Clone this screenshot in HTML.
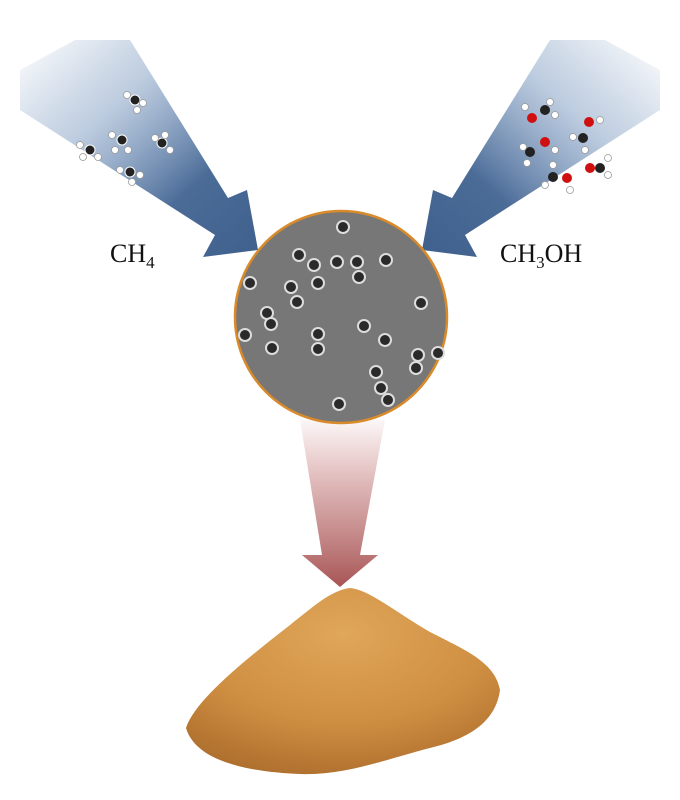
<!DOCTYPE html>
<html><head><meta charset="utf-8"><style>
html,body{margin:0;padding:0;background:#fff;}
svg{display:block}
</style></head><body>
<svg width="680" height="800" viewBox="0 0 680 800" xmlns="http://www.w3.org/2000/svg">
<defs>
<linearGradient id="gl" x1="0" y1="0" x2="1" y2="1">
<stop offset="0" stop-color="#5a7fae" stop-opacity="0"/>
<stop offset="0.35" stop-color="#6b8db8" stop-opacity="0.45"/>
<stop offset="0.7" stop-color="#4c6c98"/>
<stop offset="1" stop-color="#3f5f8c"/>
</linearGradient>
<linearGradient id="gr" x1="1" y1="0" x2="0" y2="1">
<stop offset="0" stop-color="#5a7fae" stop-opacity="0"/>
<stop offset="0.35" stop-color="#6b8db8" stop-opacity="0.45"/>
<stop offset="0.7" stop-color="#4c6c98"/>
<stop offset="1" stop-color="#3f5f8c"/>
</linearGradient>
<linearGradient id="gd" x1="0" y1="0" x2="0" y2="1">
<stop offset="0" stop-color="#c06060" stop-opacity="0.05"/>
<stop offset="0.5" stop-color="#b86a6a" stop-opacity="0.6"/>
<stop offset="1" stop-color="#a85454"/>
</linearGradient>
<radialGradient id="pw" cx="0.5" cy="0.25" r="0.85">
<stop offset="0" stop-color="#e0a65a"/>
<stop offset="0.55" stop-color="#cf8f42"/>
<stop offset="1" stop-color="#a8682a"/>
</radialGradient>
</defs>
<polygon points="75,40 130,40 228,198 247,190 258,250 203,257 215,235 20,110 20,70" fill="url(#gl)"/>
<polygon points="605,40 550,40 452,198 433,190 422,250 477,257 465,235 660,110 660,70" fill="url(#gr)"/>
<polygon points="300,420 385,420 360,555 378,555 340,587 302,555 322,555" fill="url(#gd)"/>
<circle cx="341" cy="317" r="106" fill="#777" stroke="#d98a2a" stroke-width="2.5"/>
<g fill="#2a2a2a" stroke="#ddd" stroke-width="2">
<circle cx="343" cy="227" r="6"/><circle cx="299" cy="255" r="6"/><circle cx="314" cy="265" r="6"/>
<circle cx="337" cy="262" r="6"/><circle cx="357" cy="262" r="6"/><circle cx="359" cy="277" r="6"/>
<circle cx="250" cy="283" r="6"/><circle cx="291" cy="287" r="6"/><circle cx="318" cy="283" r="6"/>
<circle cx="297" cy="302" r="6"/><circle cx="267" cy="313" r="6"/><circle cx="271" cy="324" r="6"/>
<circle cx="421" cy="303" r="6"/><circle cx="364" cy="326" r="6"/><circle cx="245" cy="335" r="6"/>
<circle cx="318" cy="334" r="6"/><circle cx="318" cy="349" r="6"/><circle cx="272" cy="348" r="6"/>
<circle cx="385" cy="340" r="6"/><circle cx="418" cy="355" r="6"/><circle cx="376" cy="372" r="6"/>
<circle cx="416" cy="368" r="6"/><circle cx="381" cy="388" r="6"/><circle cx="388" cy="400" r="6"/>
<circle cx="339" cy="404" r="6"/><circle cx="386" cy="260" r="6"/><circle cx="438" cy="353" r="6"/>
</g>
<g fill="#222" stroke="#fff" stroke-width="1"><circle cx="135" cy="100" r="5"/><circle cx="90" cy="150" r="5"/><circle cx="122" cy="140" r="5"/><circle cx="162" cy="143" r="5"/><circle cx="130" cy="172" r="5"/></g>
<g fill="#fff" stroke="#999" stroke-width="0.8">
<circle cx="127" cy="95" r="3.5"/><circle cx="143" cy="103" r="3.5"/><circle cx="137" cy="110" r="3.5"/>
<circle cx="80" cy="145" r="3.5"/><circle cx="83" cy="157" r="3.5"/><circle cx="98" cy="157" r="3.5"/>
<circle cx="112" cy="135" r="3.5"/><circle cx="128" cy="150" r="3.5"/><circle cx="115" cy="150" r="3.5"/>
<circle cx="155" cy="138" r="3.5"/><circle cx="170" cy="150" r="3.5"/><circle cx="165" cy="135" r="3.5"/>
<circle cx="120" cy="170" r="3.5"/><circle cx="132" cy="182" r="3.5"/><circle cx="140" cy="175" r="3.5"/></g>
<g fill="#d01010"><circle cx="532" cy="118" r="5"/><circle cx="589" cy="122" r="5"/><circle cx="545" cy="142" r="5"/><circle cx="567" cy="178" r="5"/><circle cx="590" cy="168" r="5"/></g>
<g fill="#222"><circle cx="545" cy="110" r="5"/><circle cx="583" cy="138" r="5"/><circle cx="530" cy="152" r="5"/><circle cx="553" cy="177" r="5"/><circle cx="600" cy="168" r="5"/></g>
<g fill="#fff" stroke="#999" stroke-width="0.8">
<circle cx="525" cy="107" r="3.5"/><circle cx="550" cy="102" r="3.5"/><circle cx="555" cy="115" r="3.5"/>
<circle cx="600" cy="120" r="3.5"/><circle cx="573" cy="137" r="3.5"/><circle cx="585" cy="150" r="3.5"/>
<circle cx="523" cy="147" r="3.5"/><circle cx="527" cy="163" r="3.5"/><circle cx="555" cy="150" r="3.5"/>
<circle cx="545" cy="185" r="3.5"/><circle cx="553" cy="165" r="3.5"/><circle cx="570" cy="190" r="3.5"/>
<circle cx="608" cy="158" r="3.5"/><circle cx="608" cy="175" r="3.5"/></g>
<text x="110" y="262" font-family="Liberation Serif, serif" font-size="26" fill="#111">CH<tspan font-size="17" dy="6">4</tspan></text>
<text x="500" y="262" font-family="Liberation Serif, serif" font-size="26" fill="#111">CH<tspan font-size="17" dy="6">3</tspan><tspan dy="-6">OH</tspan></text>
<path d="M186,728 C195,700 245,660 290,625 C315,605 332,590 350,588 C370,590 395,612 430,632 C465,650 495,662 500,690 C496,720 472,738 430,748 C390,758 345,776 300,774 C250,772 196,762 186,728 Z" fill="url(#pw)"/>
</svg>
</body></html>
